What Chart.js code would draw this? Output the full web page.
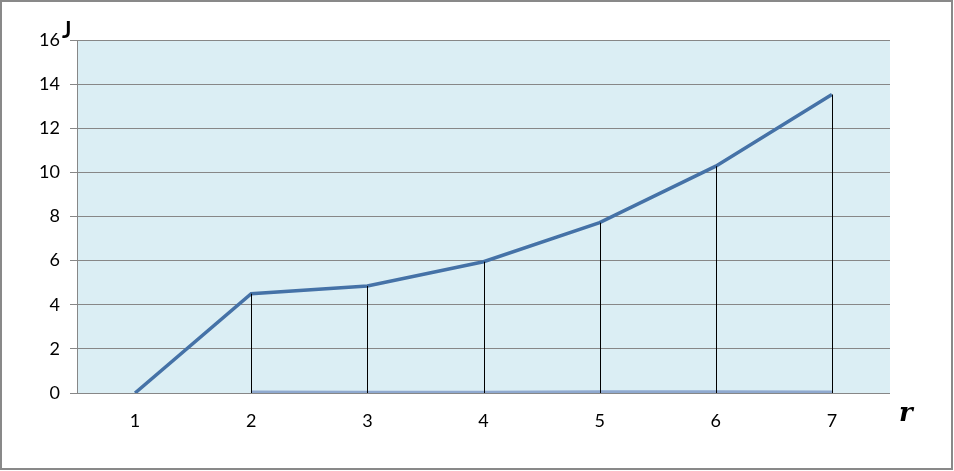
<!DOCTYPE html>
<html>
<head>
<meta charset="utf-8">
<script src="https://cdn.jsdelivr.net/npm/chart.js@4"></script>
<style>
html,body{margin:0;padding:0;background:#fff;}
#wrap{width:954px;height:471px;position:relative;}
</style>
</head>
<body>
<div id="wrap"><canvas id="c" width="954" height="471"></canvas></div>
<script>
const categories = ['1','2','3','4','5','6','7'];
const jValues = [0, 4.5, 4.85, 5.95, 7.72, 10.28, 13.53];
const baseValues = [null, 0.03, 0.02, 0.02, 0.04, 0.04, 0.03];
const yTicks = [0, 2, 4, 6, 8, 10, 12, 14, 16];
const yTitle = 'J';
const xTitle = 'r';

const FONT = 'Lato, "Open Sans", "Liberation Sans", sans-serif';

const decor = {
  id: 'decor',
  beforeDraw(chart) {
    const {ctx, chartArea: a} = chart;
    ctx.save();
    ctx.fillStyle = '#DBEEF4';
    ctx.fillRect(a.left, a.top, a.right - a.left, a.bottom - a.top);
    ctx.restore();
  },
  afterDatasetsDraw(chart) {
    const {ctx} = chart;
    const xs = chart.scales.x, ys = chart.scales.y;
    ctx.save();
    ctx.strokeStyle = '#000';
    ctx.lineWidth = 1;
    jValues.forEach((v, i) => {
      if (i === 0) return;
      const x = Math.round(xs.getPixelForValue(i)) + 0.5;
      ctx.beginPath();
      ctx.moveTo(x, ys.getPixelForValue(v));
      ctx.lineTo(x, ys.getPixelForValue(0));
      ctx.stroke();
    });
    ctx.restore();
  },
  afterDraw(chart) {
    const {ctx} = chart;
    ctx.save();
    ctx.fillStyle = '#000';
    ctx.font = 'bold 22px ' + FONT;
    ctx.textBaseline = 'alphabetic';
    ctx.textAlign = 'left';
    ctx.fillText(yTitle, 62, 38);
    ctx.font = 'bold italic 26px "DejaVu Serif", "Liberation Serif", serif';
    ctx.fillText(xTitle, 899, 421);
    ctx.strokeStyle = '#898989';
    ctx.lineWidth = 2;
    ctx.strokeRect(1, 1, 951, 468);
    ctx.restore();
  }
};

new Chart(document.getElementById('c'), {
  type: 'line',
  data: {
    labels: categories,
    datasets: [
      {
        data: jValues,
        borderColor: '#4572A7',
        borderWidth: 3.5,
        pointRadius: 0,
        tension: 0,
        order: 1
      },
      {
        data: baseValues,
        borderColor: '#8FA9CF',
        borderWidth: 3.5,
        pointRadius: 0,
        tension: 0,
        order: 2
      }
    ]
  },
  options: {
    responsive: false,
    animation: false,
    devicePixelRatio: 1,
    layout: {padding: {left: 0, top: 40, right: 64, bottom: 0}},
    plugins: {legend: {display: false}, tooltip: {enabled: false}},
    scales: {
      x: {
        offset: true,
        grid: {display: false, drawTicks: false},
        border: {display: false},
        ticks: {color: '#000', font: {family: FONT, size: 18}, padding: 17, maxRotation: 0},
        afterFit(s) { s.height = 78; }
      },
      y: {
        min: 0, max: 16,
        afterBuildTicks(s) { s.ticks = yTicks.map(v => ({value: v})); },
        grid: {color: '#878787', lineWidth: 1, drawTicks: true, tickLength: 7, tickColor: '#878787'},
        border: {display: true, color: '#878787', width: 1},
        ticks: {color: '#000', font: {family: FONT, size: 18}, padding: 10},
        afterFit(s) { s.width = 77; }
      }
    }
  },
  plugins: [decor]
});
</script>
</body>
</html>
